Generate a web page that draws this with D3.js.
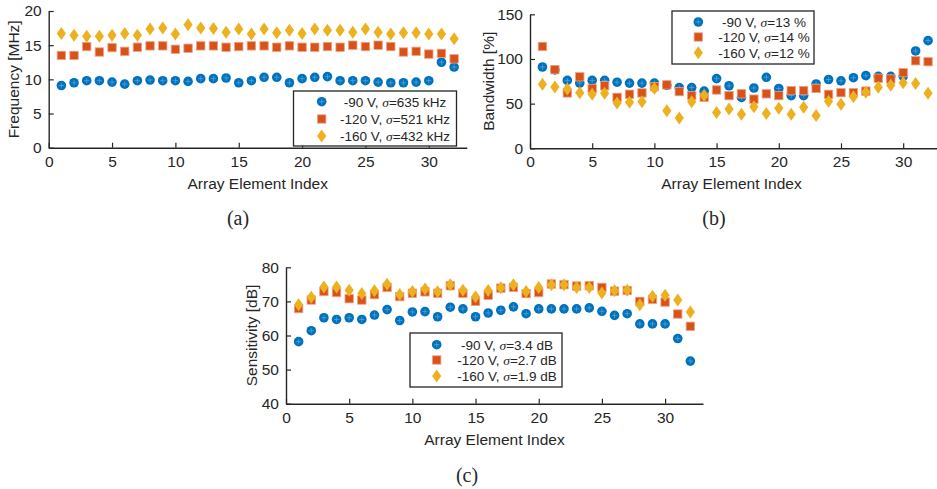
<!DOCTYPE html>
<html><head><meta charset="utf-8">
<script src="https://cdn.jsdelivr.net/npm/d3@7/dist/d3.min.js"></script>
<style>
body{margin:0;background:#fff}
svg text{font-family:"Liberation Sans",Arial,sans-serif;fill:#262626}
</style>
</head><body>
<svg id="chart" width="937" height="489"></svg>
<script>
// ---------- data ----------
const elementIndex = [1,2,3,4,5,6,7,8,9,10,11,12,13,14,15,16,17,18,19,20,21,22,23,24,25,26,27,28,29,30,31,32];
const xTicks = [0,5,10,15,20,25,30];

const freq90  = [9.1,9.5,9.8,9.8,9.6,9.3,9.8,9.9,9.8,9.8,9.7,10.1,10.1,10.2,9.5,9.8,10.3,10.3,9.5,10.1,10.3,10.4,9.8,9.8,9.8,9.6,9.5,9.5,9.6,9.8,12.5,11.8];
const freq120 = [13.5,13.5,14.8,14.0,14.65,14.1,14.7,14.9,14.9,14.4,14.55,14.9,14.9,14.7,14.8,14.9,14.9,14.7,14.9,14.7,14.7,14.8,14.7,15.0,14.8,15.0,14.8,14.0,14.1,13.7,13.8,13.0];
const freq160 = [16.7,16.45,16.3,16.3,16.45,16.7,16.45,17.35,17.5,16.65,18.0,17.5,17.45,16.9,17.35,16.65,17.35,16.8,17.2,16.7,17.35,17.2,17.2,16.9,17.35,16.9,16.65,16.8,16.8,16.65,16.65,15.95];
const freqTicks = [0,5,10,15,20];
const freqLegend = ["635 kHz","521 kHz","432 kHz"];

const bw90  = [91,87.7,76,73,76,76,74,73,73,73,70.5,68,68,64,78,70,57,67.5,79.5,67,59,59,72,77,75.5,79,81.3,80.6,80.6,80.6,109,120.5];
const bw120 = [114,88,62,80,67,70,57,60.5,62,69,71,63.5,59,57,65.3,59,61,55,61,59,64.6,64.6,67,60.4,62.3,62.3,64,78.4,77.6,84.7,98,97];
const bw160 = [71.6,68.7,66.4,62.3,60.4,61.6,50.7,51.5,52.2,67,42,34,52,59,40,44,38,46.6,39,44.8,38,45.9,36.6,52.6,49.3,57.8,62.7,68.3,70.5,73.5,72.4,61.6];
const bwTicks = [0,50,100,150];
const bwLegend = ["13 %","14 %","12 %"];

const sens90  = [58.2,61.4,65.2,64.7,65.2,64.7,66.0,67.6,64.4,66.9,67.0,65.5,68.3,67.8,65.5,66.6,67.4,68.4,66.4,67.8,67.8,67.8,67.8,68.1,67.1,65.9,66.4,63.4,63.4,63.4,59.1,52.5];
const sens120 = [67.9,70.4,72.9,72.6,70.8,70.4,72.0,74.1,71.4,72.4,72.8,72.4,74.6,72.4,70.0,71.8,73.9,74.1,72.3,72.6,75.1,74.9,74.5,74.6,74.1,73.0,73.2,70.0,70.6,69.8,66.3,62.7];
const sens160 = [69.0,71.2,74.2,74.2,73.3,72.3,73.1,75.0,72.0,72.9,73.6,72.8,74.9,73.3,71.4,73.2,74.0,74.9,72.9,74.1,74.9,74.9,74.1,74.1,72.5,73.1,73.3,69.0,71.5,71.8,70.4,66.9];
const sensTicks = [40,50,60,70,80];
const sensLegend = ["3.4 dB","2.7 dB","1.9 dB"];

const voltages = ["-90 V","-120 V","-160 V"];
const xTitle = "Array Element Index";

// ---------- styles ----------
const colors = ["#0072BD","#D95319","#EDB120"];
const axisColor = "#262626";

const svg = d3.select("#chart");
svg.append("rect").attr("width",937).attr("height",489).attr("fill","#fff");

function drawMarker(g, kind, x, y) {
  if (kind === 0) {
    g.append("circle").attr("cx",x).attr("cy",y).attr("r",4.8).attr("fill",colors[0]);
    g.append("path").attr("d",`M${x-2.7},${y}H${x+2.7}M${x},${y-2.7}V${y+2.7}`)
      .attr("stroke","#6aaee0").attr("stroke-width",0.8).attr("opacity",0.8);
  } else if (kind === 1) {
    g.append("rect").attr("x",x-4.2).attr("y",y-4.2).attr("width",8.4).attr("height",8.4)
      .attr("fill",colors[1]).attr("stroke","#eca387").attr("stroke-width",0.8);
  } else {
    g.append("path").attr("d",`M${x},${y-6.5}L${x+4.6},${y}L${x},${y+6.5}L${x-4.6},${y}Z`)
      .attr("fill",colors[2]);
  }
}

function panel(cfg) {
  const g = svg.append("g");
  const x = d3.scaleLinear().domain([0,33]).range(cfg.xr);
  const y = d3.scaleLinear().domain(cfg.yd).range(cfg.yr);

  cfg.series.forEach((vals, k) => {
    const mg = g.append("g");
    vals.forEach((v, i) => drawMarker(mg, k, x(elementIndex[i]), y(v)));
  });

  const xa = g.append("g").attr("transform",`translate(0,${cfg.yr[0]})`)
    .call(d3.axisBottom(x).tickValues(xTicks).tickSizeInner(-5).tickSizeOuter(0).tickPadding(8));
  const ya = g.append("g").attr("transform",`translate(${cfg.xr[0]},0)`)
    .call(d3.axisLeft(y).tickValues(cfg.yTicks).tickSizeInner(-5).tickSizeOuter(0).tickPadding(7));
  [xa,ya].forEach(a => {
    a.select(".domain").attr("stroke",axisColor).attr("stroke-width",1.4);
    a.selectAll(".tick line").attr("stroke",axisColor).attr("stroke-width",1.2);
    a.selectAll(".tick text").attr("font-size",15.5).attr("fill",axisColor)
      .attr("font-family","Liberation Sans, Arial, sans-serif");
  });

  g.append("text").attr("x",(cfg.xr[0]+Math.min(cfg.xr[1],937))/2 - (cfg.xr[1]>937?2:0))
    .attr("y",cfg.yr[0]+41).attr("text-anchor","middle").attr("font-size",15.5).text(xTitle);
  g.append("text").attr("transform",`translate(${cfg.ytx},${(cfg.yr[0]+cfg.yr[1])/2}) rotate(-90)`)
    .attr("text-anchor","middle").attr("dy","0.35em").attr("font-size",15.5).text(cfg.yTitle);

  const L = cfg.legend;
  g.append("rect").attr("x",L.x).attr("y",L.y).attr("width",L.w).attr("height",L.h)
    .attr("fill","#fff").attr("stroke",axisColor).attr("stroke-width",1.3);
  const lg = g.append("g");
  voltages.forEach((v, k) => {
    drawMarker(lg, k, L.mx, L.rows[k]);
    const t = lg.append("text").attr("x",L.tx).attr("y",L.rows[k]).attr("dy","0.36em")
      .attr("text-anchor","middle").attr("font-size",13.5);
    t.append("tspan").text(v + ", ");
    t.append("tspan").attr("font-style","italic").attr("font-family","Liberation Serif, serif").text("σ");
    t.append("tspan").text("=" + cfg.legendVals[k]);
  });

  svg.append("text").attr("x",cfg.cap[0]).attr("y",cfg.cap[1]).attr("text-anchor","middle")
    .attr("font-size",20).style("font-family","Liberation Serif, serif")
    .text(cfg.capText);
}

panel({
  xr:[48.7,466.8], yd:[0,20], yr:[147.7,11], yTicks:freqTicks, yTitle:"Frequency [MHz]", ytx:14,
  series:[freq90,freq120,freq160], legendVals:freqLegend,
  legend:{x:293.5,y:91,w:163,h:55,mx:321.7,rows:[101.7,119,136],tx:395},
  cap:[238,225], capText:"(a)"
});
panel({
  xr:[530,940.5], yd:[0,150], yr:[148.3,14.3], yTicks:bwTicks, yTitle:"Bandwidth [%]", ytx:489,
  series:[bw90,bw120,bw160], legendVals:bwLegend,
  legend:{x:672,y:11,w:142,h:53,mx:698.3,rows:[22,37,52.7],tx:764},
  cap:[714,225], capText:"(b)"
});
panel({
  xr:[286,703], yd:[40,80], yr:[403.7,267.3], yTicks:sensTicks, yTitle:"Sensitivity [dB]", ytx:251.5,
  series:[sens90,sens120,sens160], legendVals:sensLegend,
  legend:{x:410,y:333,w:152,h:54,mx:436.7,rows:[344.7,360,376],tx:507},
  cap:[467,482], capText:"(c)"
});
</script>
</body></html>
